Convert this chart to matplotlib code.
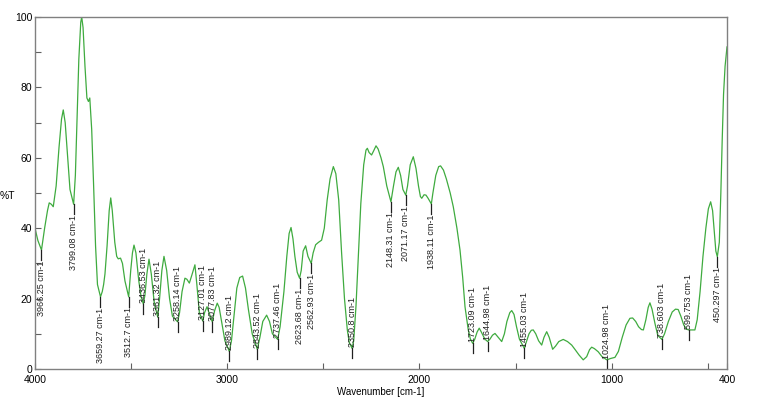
import numpy as np
import matplotlib
matplotlib.use('Agg')
import matplotlib.pyplot as plt

# espectro (numero de onda cm-1, %T)
wavenumber = [
    4000, 3985, 3966.25, 3950, 3935, 3926, 3915, 3905, 3890, 3875, 3862, 3853, 3843, 3830, 3818,
    3799.08, 3790, 3782, 3772, 3762, 3757, 3750, 3740, 3730, 3722, 3715, 3705, 3695, 3685, 3675,
    3659.27, 3650, 3643, 3636, 3625, 3614, 3606, 3598, 3585, 3575, 3567, 3555, 3545, 3532,
    3512.7, 3502, 3493, 3485, 3475, 3460, 3448, 3436.53, 3428, 3418, 3407, 3395, 3380,
    3361.32, 3352, 3340, 3329, 3315, 3300, 3285, 3258.14, 3248, 3235, 3220, 3210, 3197, 3185,
    3168, 3158, 3145, 3127.01, 3118, 3105, 3095, 3077.83, 3066, 3052, 3042, 3028, 3012,
    2989.12, 2978, 2965, 2950, 2935, 2920, 2905, 2890, 2870, 2843.52, 2830, 2815, 2795, 2780,
    2765, 2737.46, 2725, 2705, 2690, 2678, 2668, 2658, 2648, 2636, 2623.68, 2615, 2605, 2592,
    2580, 2562.93, 2553, 2540, 2525, 2509, 2495, 2480, 2465, 2448, 2435, 2420, 2405, 2390, 2375,
    2365, 2350.8, 2342, 2330, 2318, 2305, 2290, 2278, 2271, 2262, 2249, 2238, 2226, 2215, 2200,
    2188, 2170, 2148.31, 2135, 2122, 2110, 2098, 2086, 2071.17, 2062, 2048, 2032, 2018, 2005,
    1995, 1988, 1976, 1966, 1955, 1938.11, 1930, 1915, 1900, 1890, 1875, 1860, 1840, 1824, 1805,
    1789, 1775, 1763, 1746, 1735, 1723.09, 1712, 1700, 1689, 1678, 1660, 1644.98, 1633, 1620,
    1607, 1590, 1572, 1558, 1545, 1530, 1520, 1508, 1495, 1480, 1455.03, 1445, 1430, 1418, 1408,
    1395, 1380, 1364, 1352, 1338, 1325, 1307, 1292, 1275, 1252, 1230, 1208, 1190, 1170, 1148,
    1130, 1115, 1104, 1090, 1070, 1050, 1024.98, 1005, 983, 965, 945, 925, 905, 891, 875, 860,
    845, 835, 822, 810, 801, 790, 775, 760, 738.603, 725, 705, 685, 668, 654, 640, 625, 610,
    599.753, 567, 555, 540, 525, 510, 497, 485, 475, 465, 458, 450.297, 440, 432, 425, 418, 410,
    400]
transmitancia = [
    40.0, 36.5, 33.8, 40, 45, 47.2, 46.8, 46.1, 52, 63, 71, 73.6, 70, 60, 51,
    46.8, 55, 70, 88, 98.5, 100, 97, 86, 77, 76, 77, 68, 52, 35, 24,
    20.5, 22, 24, 27, 35, 45, 48.6, 45, 36, 32, 31.3, 31.5, 30, 25,
    20.5, 28, 33, 35.2, 33, 25, 20.5, 18.5, 21, 27, 31.2, 27, 19,
    14.7, 20, 28, 32, 28, 20, 15, 13.4, 16, 22, 25.8, 25.5, 24.4, 26.5,
    29.6, 24, 16, 13.6, 16, 17.7, 16, 13.4, 16.5, 18.7, 17.5, 13, 8,
    5.0, 8, 15, 23, 26, 26.4, 23, 17, 10, 5.6, 9, 13.5, 15.3, 13.5,
    10, 8.4, 12, 22, 32, 38.5, 40.2, 37, 32, 27.5, 25.8, 28, 33.5, 35,
    32, 30, 33, 35.3, 36, 36.6, 40, 48, 54, 57.5, 55.5, 48, 33, 20, 11,
    7.5, 5.9, 8, 18, 32, 47, 58, 62.2, 62.7, 61.5, 60.8, 62, 63.4, 62.5, 60,
    57.5, 52, 47.5, 52, 56, 57.3, 55, 51, 49.4, 52, 58, 60.3, 57, 52,
    49, 48.5, 49.5, 49.4, 48.5, 46.9, 50, 55, 57.5, 57.7, 56.5, 54, 50, 46.1, 40,
    33.8, 26, 17.7, 11.1, 8.5, 7.3, 8.5, 10.5, 11.6, 10.5, 8.5, 7.8, 8.5, 9.6,
    10.1, 9, 7.8, 10, 13.5, 16, 16.6, 15.5, 12, 8.5, 5.9, 7.5, 10, 11, 11.1,
    10, 8, 6.8, 9, 10.6, 9, 5.6, 6.5, 7.8, 8.4, 7.8, 6.8, 5.5, 4, 2.6,
    3.5, 5.5, 6.2, 5.8, 4.9, 3.5, 2.6, 3, 3.3, 5, 9, 12.5, 14.4, 14.5, 13.5, 12,
    11.2, 11.1, 14, 17.5, 18.8, 17, 13, 9.5, 8.4, 10, 13.5, 16.2, 17, 16.9, 15, 12.5, 11.3,
    11.1, 11.1, 14, 22, 32, 40, 45.5, 47.5, 45, 38, 33.5, 31.9, 36, 50, 65, 78, 86,
    91.5]

# picos marcados
picos = [3966.25, 3799.08, 3659.27, 3512.7, 3436.53, 3361.32, 3258.14, 3127.01, 3077.83,
         2989.12, 2843.52, 2737.46, 2623.68, 2562.93, 2350.8, 2148.31, 2071.17, 1938.11,
         1723.09, 1644.98, 1455.03, 1024.98, 738.603, 599.753, 450.297]
rotulos = ['3966.25 cm-1', '3799.08 cm-1', '3659.27 cm-1', '3512.7 cm-1', '3436.53 cm-1',
           '3361.32 cm-1', '3258.14 cm-1', '3127.01 cm-1', '3077.83 cm-1', '2989.12 cm-1',
           '2843.52 cm-1', '2737.46 cm-1', '2623.68 cm-1', '2562.93 cm-1', '2350.8 cm-1',
           '2148.31 cm-1', '2071.17 cm-1', '1938.11 cm-1', '1723.09 cm-1', '1644.98 cm-1',
           '1455.03 cm-1', '1024.98 cm-1', '738.603 cm-1', '599.753 cm-1', '450.297 cm-1']

plt.rcParams['font.family'] = ['Liberation Sans', 'DejaVu Sans']

fig = plt.figure(figsize=(7.73, 3.98), dpi=100)
ax = fig.add_axes([35 / 773, 1 - 369 / 398, 692 / 773, 352 / 398])

ax.plot(wavenumber, transmitancia, color='#3fab3f', linewidth=0.9)

x_ord = wavenumber[::-1]
y_ord = transmitancia[::-1]
for wn, texto in zip(picos, rotulos):
    t = np.interp(wn, x_ord, y_ord)
    ax.plot([wn, wn], [t, t - 2.8], color='#202020', linewidth=0.9)
    if t > 19.5:
        ax.text(wn, t - 3.0, texto, rotation=90, ha='center', va='top',
                fontsize=6.5, color='#202020')
    else:
        ax.text(wn, t + 0.3, texto, rotation=90, ha='center', va='bottom',
                fontsize=6.5, color='#202020')

ax.set_xlim(4000, 400)
ax.set_ylim(0, 100)
ax.set_xticks([4000, 3000, 2000, 1000, 400])
ax.set_xticks([3500, 2500, 1500, 500], minor=True)
ax.set_yticks([0, 20, 40, 60, 80, 100])
ax.set_yticks([10, 30, 50, 70, 90], minor=True)
ax.tick_params(which='both', direction='in', length=4, width=0.8, color='#606060',
               labelsize=7.5)
ax.tick_params(axis='x', pad=4)
ax.tick_params(axis='y', pad=2)
for s in ax.spines.values():
    s.set_color('#808080')
    s.set_linewidth(1.0)

ax.set_xlabel('Wavenumber [cm-1]', fontsize=7, labelpad=2)
fig.text(0.0, 1 - 196 / 398, '%T', fontsize=7.5, va='center', ha='left')

plt.savefig('out.png', dpi=100)
